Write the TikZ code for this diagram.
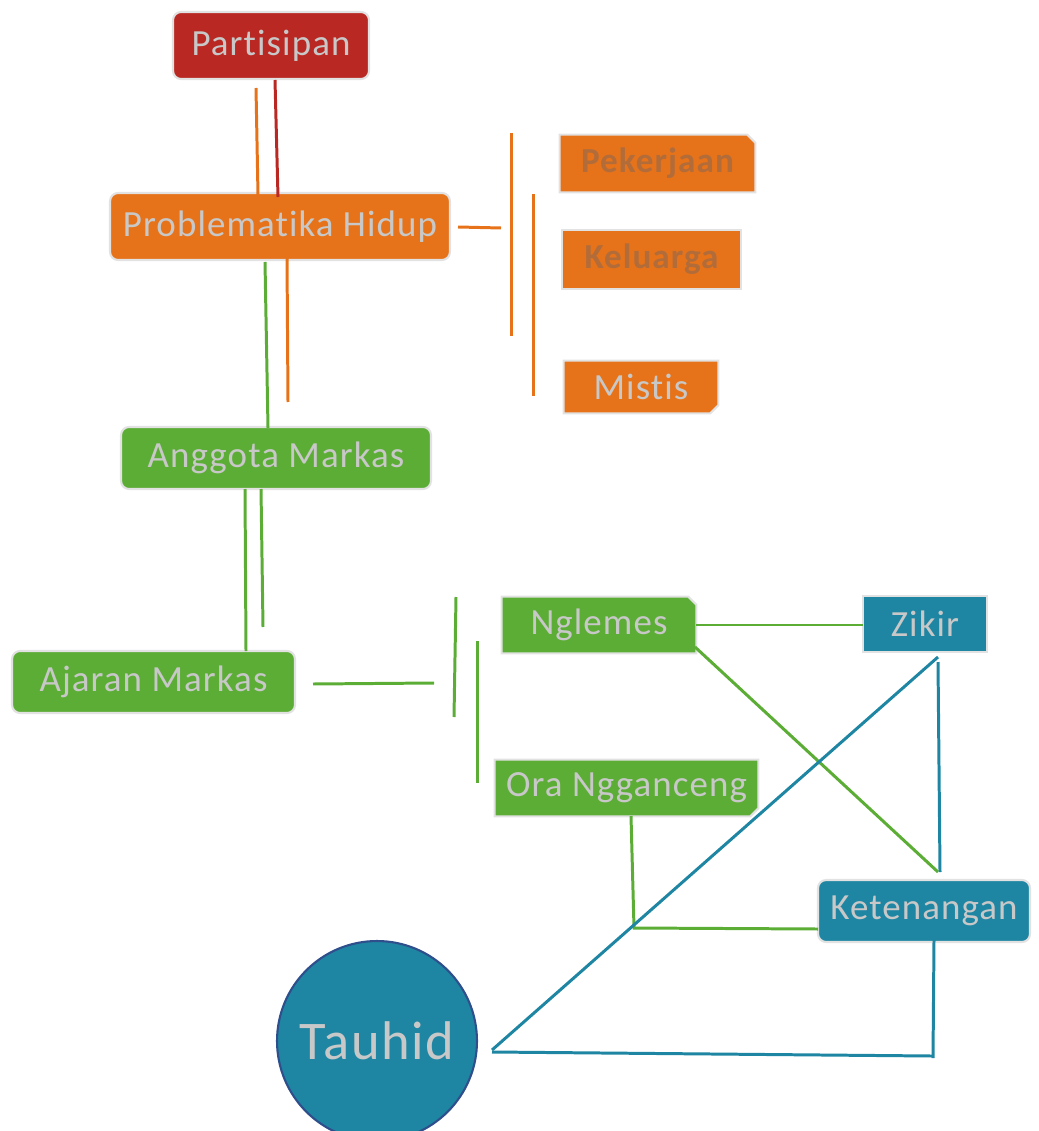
\documentclass[tikz,border=0pt]{standalone}
\usepackage{fontspec}
\setmainfont[Ligatures=NoCommon,LetterSpace=3]{Carlito}
\usetikzlibrary{backgrounds}
\definecolor{cred}{RGB}{185,40,34}
\definecolor{corange}{RGB}{230,115,26}
\definecolor{cgreen}{RGB}{91,173,53}
\definecolor{cteal}{RGB}{30,134,162}
\definecolor{bord}{RGB}{226,226,226}
\definecolor{txt}{RGB}{200,200,200}
\definecolor{dimtxt}{RGB}{178,108,58}
\definecolor{circbord}{RGB}{46,78,140}
\newcommand{\snipNE}[2]{\begin{pgfonlayer}{background}\filldraw[fill=#2,draw=bord,line width=1.2pt] (#1.south west) -- (#1.north west) -- ([xshift=-0.16cm]#1.north east) -- ([yshift=-0.16cm]#1.north east) -- (#1.south east) -- cycle;\end{pgfonlayer}}
\newcommand{\snipSE}[2]{\begin{pgfonlayer}{background}\filldraw[fill=#2,draw=bord,line width=1.2pt] (#1.south west) -- (#1.north west) -- (#1.north east) -- ([yshift=0.16cm]#1.south east) -- ([xshift=-0.16cm]#1.south east) -- cycle;\end{pgfonlayer}}
\begin{document}
\begin{tikzpicture}[x=0.02cm,y=-0.02cm,
  base/.style={inner sep=0pt, text=txt, font=\fontsize{21}{25}\selectfont},
  rbox/.style={base, draw=bord, line width=1.2pt, rounded corners=0.16cm, fill=#1},
  pbox/.style={base, draw=bord, line width=1.2pt, fill=#1},
  sbox/.style={base},
  ln/.style={line width=1.7pt, draw=#1}]
\useasboundingbox (0,0) rectangle (1038,1131);

% nodes
\node[rbox=cred, minimum width=3.92cm, minimum height=1.34cm] (part) at (271,45.5) {Partisipan};
\node[rbox=corange, minimum width=6.8cm, minimum height=1.34cm] (prob) at (280,226.5) {Problematika Hidup};
\node[sbox, minimum width=3.9cm, minimum height=1.14cm, text=dimtxt, font=\fontsize{20}{24}\selectfont\bfseries] (pek) at (657.5,163.5) {Pekerjaan};
\snipNE{pek}{corange}
\node[pbox=corange, minimum width=3.58cm, minimum height=1.18cm, text=dimtxt, font=\fontsize{20}{24}\selectfont\bfseries] (kel) at (651.5,259.5) {Keluarga};
\node[sbox, minimum width=3.08cm, minimum height=1.04cm] (mis) at (641,387) {Mistis};
\snipSE{mis}{corange}
\node[rbox=cgreen, minimum width=6.2cm, minimum height=1.24cm] (ang) at (276,458) {Anggota Markas};
\node[rbox=cgreen, minimum width=5.66cm, minimum height=1.24cm] (aja) at (153.5,682) {Ajaran Markas};
\node[sbox, minimum width=3.88cm, minimum height=1.12cm] (ngl) at (599,625) {Nglemes};
\snipNE{ngl}{cgreen}
\node[sbox, minimum width=5.26cm, minimum height=1.12cm] (ora) at (626.5,788) {Ora Ngganceng};
\snipSE{ora}{cgreen}
\node[pbox=cteal, minimum width=2.48cm, minimum height=1.12cm] (zik) at (925,624) {Zikir};
\node[rbox=cteal, minimum width=4.24cm, minimum height=1.24cm] (ket) at (924,911) {Ketenangan};
\node[circle, fill=cteal, draw=circbord, line width=1.2pt, minimum size=4cm, inner sep=0pt, text=txt, font=\fontsize{31}{37}\selectfont] (tau) at (377,1041) {Tauhid};

% connector coordinates
\coordinate (r1) at (275,80);  \coordinate (r2) at (278,197);
\coordinate (o1) at (256,88);  \coordinate (o2) at (258,195);
\coordinate (o3) at (458,227); \coordinate (o4) at (501,228);
\coordinate (o5) at (511,133); \coordinate (o6) at (511,336);
\coordinate (o7) at (533,194); \coordinate (o8) at (533,396);
\coordinate (o9) at (287,258); \coordinate (o10) at (288,402);
\coordinate (g1) at (265,262); \coordinate (g2) at (268,428);
\coordinate (g3) at (245,489); \coordinate (g4) at (246,651);
\coordinate (g5) at (261,489); \coordinate (g6) at (263,627);
\coordinate (g7) at (313,684); \coordinate (g8) at (434,683);
\coordinate (g9) at (456,597); \coordinate (g10) at (454,717);
\coordinate (g11) at (477,641); \coordinate (g12) at (477,783);
\coordinate (g13) at (696,625); \coordinate (g14) at (863,625);
\coordinate (g15) at (695,647); \coordinate (g16) at (938,872);
\coordinate (g17) at (631,816); \coordinate (g18) at (634,928); \coordinate (g19) at (818,929);
\coordinate (t1) at (492,1050); \coordinate (t2) at (938,657);
\coordinate (t3) at (938,662);  \coordinate (t4) at (940,872);
\coordinate (t5) at (492,1052); \coordinate (t6) at (932,1056);
\coordinate (t7) at (934,940);  \coordinate (t8) at (933,1058);

% connectors
\draw[ln=cred] (r1) -- (r2);
\draw[ln=corange] (o1) -- (o2);
\draw[ln=corange] (o3) -- (o4);
\draw[ln=corange] (o5) -- (o6);
\draw[ln=corange] (o7) -- (o8);
\draw[ln=corange] (o9) -- (o10);
\draw[ln=cgreen] (g1) -- (g2);
\draw[ln=cgreen] (g3) -- (g4);
\draw[ln=cgreen] (g5) -- (g6);
\draw[ln=cgreen] (g7) -- (g8);
\draw[ln=cgreen] (g9) -- (g10);
\draw[ln=cgreen] (g11) -- (g12);
\draw[ln=cgreen] (g13) -- (g14);
\draw[ln=cgreen] (g15) -- (g16);
\draw[ln=cgreen] (g17) -- (g18) -- (g19);
\draw[ln=cteal] (t1) -- (t2);
\draw[ln=cteal] (t3) -- (t4);
\draw[ln=cteal] (t5) -- (t6);
\draw[ln=cteal] (t7) -- (t8);
\end{tikzpicture}
\end{document}
